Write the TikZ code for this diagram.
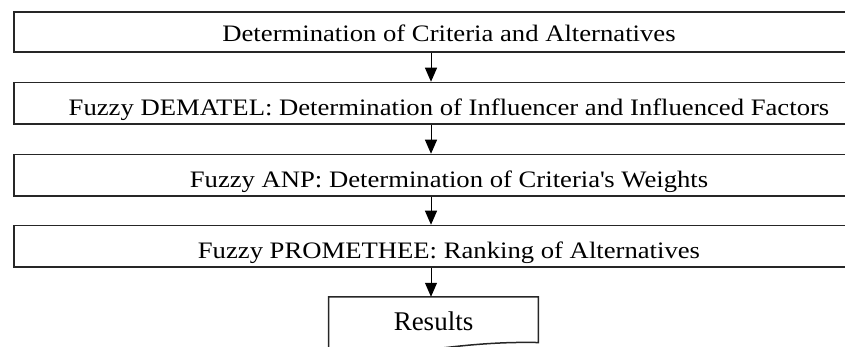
\documentclass[tikz,border=0pt]{standalone}
\usepackage{fontspec}
\setmainfont{Liberation Serif}[FakeStretch=1.13]
\newfontfamily\resultsfont{Liberation Serif}
\usepackage{tikz}
\usetikzlibrary{positioning, arrows.meta, calc}
\tikzset{
  stage/.style={rectangle, minimum width=435pt, minimum height=20.75pt, inner sep=0pt, text centered, draw=black!85, line width=0.75pt, text height=12pt, text depth=0pt},
  outbox/.style={rectangle, minimum width=104.5pt, minimum height=22.5pt, inner sep=0pt, text centered, text height=10.5pt, text depth=0pt, font=\resultsfont\fontsize{13.5}{16}\selectfont},
  arrow/.style={line width=0.5pt, -{Triangle[length=7pt, width=6pt]}}
}
\begin{document}
\begin{tikzpicture}[node distance=14.5pt, every node/.style={font=\fontsize{11.8}{14}\selectfont}]
        \useasboundingbox (0,0) rectangle (422.5pt,-173.5pt);
        \node (crit) [stage, minimum height=20pt, text height=10pt] at (224.5pt,-16pt) {Determination of Criteria and Alternatives};
        \node (dematel) [stage, below=of crit] {Fuzzy DEMATEL: Determination of Influencer and Influenced Factors};
        \node (anp) [stage, below=of dematel] {Fuzzy ANP: Determination of Criteria\textquotesingle s Weights};
        \node (promethee) [stage, below=14pt of anp] {Fuzzy PROMETHEE: Ranking of Alternatives};
        \node (results) [outbox, below=14.5pt of promethee, xshift=-7.75pt] {Results};

        \draw [line width=0.75pt, draw=black!85] (results.north west) -- (results.north east) -- (results.south east)
            .. controls ([shift={(-44pt,1pt)}]results.south east) and ([shift={(30.5pt,-9pt)}]results.south west) .. ([yshift=-7pt]results.south west) -- cycle;

        % arrows sit left of the box centres
        \draw [arrow] ([xshift=-9pt]crit.south) -- ([xshift=-9pt]dematel.north);
        \draw [arrow] ([xshift=-9pt]dematel.south) -- ([xshift=-9pt]anp.north);
        \draw [arrow] ([xshift=-9pt]anp.south) -- ([xshift=-9pt]promethee.north);
        \draw [arrow] ([xshift=-9pt]promethee.south) -- ([xshift=-1.25pt]results.north);
    \end{tikzpicture}
\end{document}
